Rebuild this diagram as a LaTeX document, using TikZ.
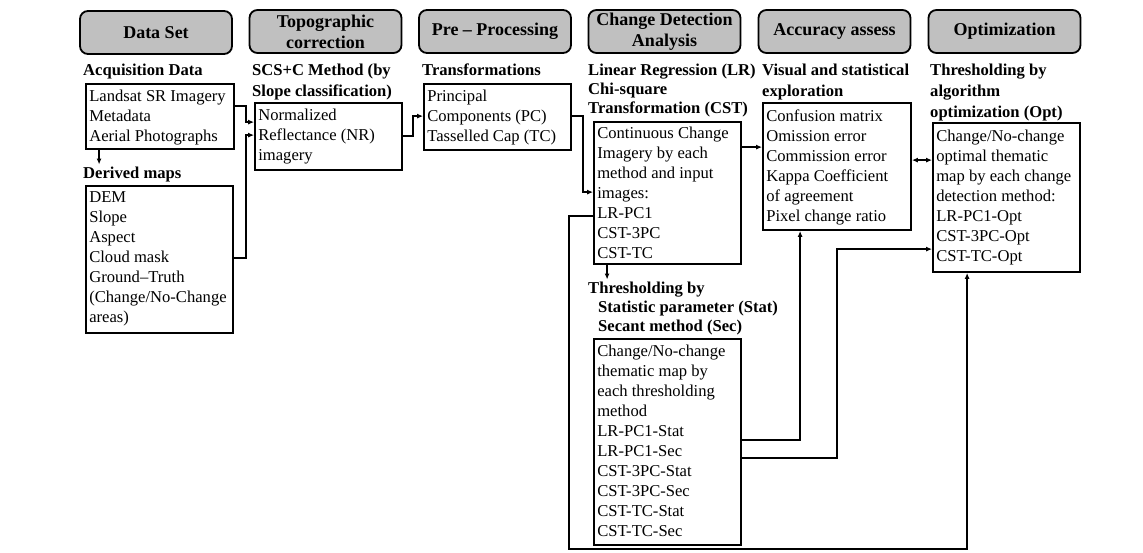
\documentclass[tikz,border=0pt]{standalone}
\usepackage{fontspec}
\setmainfont{Liberation Serif}
\usetikzlibrary{calc,arrows.meta}
\definecolor{hdrgray}{RGB}{192,192,192}
\begin{document}
\begin{tikzpicture}[x=1pt,y=-1pt,
  hdr/.style={draw, line width=1.8pt, rounded corners=8pt, fill=hdrgray,
    minimum width=152pt, minimum height=43pt, align=center, inner sep=0pt,
    font=\fontsize{18}{21}\selectfont\bfseries},
  boxn/.style={draw, line width=1.8pt, inner sep=0pt},
  btext/.style={anchor=north west, inner sep=0pt, align=left,
    font=\fontsize{16.6}{20}\selectfont},
  blab/.style={anchor=north west, inner sep=0pt, align=left,
    font=\fontsize{16.6}{#1}\selectfont\bfseries},
  blab/.default=20,
  arr/.style={line width=1.6pt, -{Latex[length=6pt,width=5pt]}},
  darr/.style={line width=1.6pt, {Latex[length=6pt,width=5pt]}-{Latex[length=6pt,width=5pt]}}
]
\useasboundingbox (0,0) rectangle (1143,552);

% headers
\node[hdr] (h1) at (156,32.5) {Data Set};
\node[hdr] (h2) at (325.5,31.5) {Topographic\\correction};
\node[hdr] (h3) at (495,31.5) {Pre -- Processing};
\node[hdr] (h4) at (664.5,31.5) {Change Detection\\Analysis};
\node[hdr] (h5) at (834.5,31.5) {Accuracy assess};
\node[hdr] (h6) at (1004.5,31.5) {Optimization};

% bold labels
\node[blab] (l1) at (83,61.5) {\strut Acquisition Data};
\node[blab] (l1b) at (83,164.5) {\strut Derived maps};
\node[blab=21] (l2) at (252,60.8) {\strut SCS+C Method (by\\Slope classification)};
\node[blab] (l3) at (422,61.5) {\strut Transformations};
\node[blab=19] (l4) at (588,62.2) {\strut Linear Regression (LR)\\Chi-square\\Transformation (CST)};
\node[blab=21] (l5) at (762,60.8) {\strut Visual and statistical\\exploration};
\node[blab=21] (l6) at (930,60.8) {\strut Thresholding by\\algorithm\\optimization (Opt)};
\node[blab=19.3] (l7) at (588,279.5) {\strut Thresholding by\\\hspace*{10pt}Statistic parameter (Stat)\\\hspace*{10pt}Secant method (Sec)};

% boxes
\node[boxn, minimum width=148pt, minimum height=65pt] (acq) at (160,116.5) {};
\node[boxn, minimum width=147pt, minimum height=147pt] (der) at (159.5,259.5) {};
\node[boxn, minimum width=147pt, minimum height=67pt] (nr) at (328.5,136.5) {};
\node[boxn, minimum width=147pt, minimum height=66pt] (pp) at (497.5,117) {};
\node[boxn, minimum width=147pt, minimum height=142pt] (cd) at (667.5,193) {};
\node[boxn, minimum width=148pt, minimum height=127pt] (acc) at (837,166.5) {};
\node[boxn, minimum width=147pt, minimum height=149pt] (opt) at (1006.5,197.5) {};
\node[boxn, minimum width=147pt, minimum height=206pt] (thr) at (667.5,442) {};

% box texts
\node[btext] (acqt) at ($(acq.north west)+(4,4.5)$) {\strut Landsat SR Imagery\\Metadata\\Aerial Photographs};
\node[btext] (dert) at ($(der.north west)+(4,3.5)$) {\strut DEM\\Slope\\Aspect\\Cloud mask\\Ground--Truth\\(Change/No-Change\\areas)};
\node[btext] (nrt) at ($(nr.north west)+(4,4.5)$) {\strut Normalized\\Reflectance (NR)\\imagery};
\node[btext] (ppt) at ($(pp.north west)+(4,4.5)$) {\strut Principal\\Components (PC)\\Tasselled Cap (TC)};
\node[btext] (cdt) at ($(cd.north west)+(4,3.5)$) {\strut Continuous Change\\Imagery by each\\method and input\\images:\\LR-PC1\\CST-3PC\\CST-TC};
\node[btext] (acct) at ($(acc.north west)+(4,5)$) {\strut Confusion matrix\\Omission error\\Commission error\\Kappa Coefficient\\of agreement\\Pixel change ratio};
\node[btext] (optt) at ($(opt.north west)+(4,5)$) {\strut Change/No-change\\optimal thematic\\map by each change\\detection method:\\LR-PC1-Opt\\CST-3PC-Opt\\CST-TC-Opt};
\node[btext] (thrt) at ($(thr.north west)+(4,4.5)$) {\strut Change/No-change\\thematic map by\\each thresholding\\method\\LR-PC1-Stat\\LR-PC1-Sec\\CST-3PC-Stat\\CST-3PC-Sec\\CST-TC-Stat\\CST-TC-Sec};

% connector anchors
\coordinate (a1) at ($(acq.south west)+(14,0)$);
\coordinate (a2) at ($(cd.south west)+(14,0)$);

% connectors
\draw[arr] (a1) -- (a1 |- l1b.north);
\draw[arr] ($(acq.north east)+(0,23)$) -- ++(11,0) |- ($(nr.north west)+(0,20)$);
\draw[arr] ($(der.north east)+(0,73)$) -- ++(12,0) |- ($(nr.north west)+(0,33)$);
\draw[arr] ($(nr.north east)+(0,34)$) -- ++(10,0) |- ($(pp.north west)+(0,33)$);
\draw[arr] ($(pp.north east)+(0,33)$) -- ++(11,0) |- ($(cd.north west)+(0,71)$);
\draw[arr] ($(cd.north east)+(0,26)$) -- ($(acc.north west)+(0,45)$);
\draw[darr] ($(acc.north east)+(0,58)$) -- ($(opt.north west)+(0,38)$);
\draw[arr] (a2) -- (a2 |- l7.north);
\draw[arr] ($(thr.north east)+(0,102)$) -| ($(acc.south west)+(38,0)$);
\draw[arr] ($(thr.north east)+(0,120)$) -- ++(95,0) |- ($(opt.north west)+(0,127)$);
\draw[arr] ($(cd.north west)+(0,95)$) -- ++(-24,0) -- ++(0,333) -| ($(opt.south west)+(35,0)$);
\end{tikzpicture}
\end{document}
